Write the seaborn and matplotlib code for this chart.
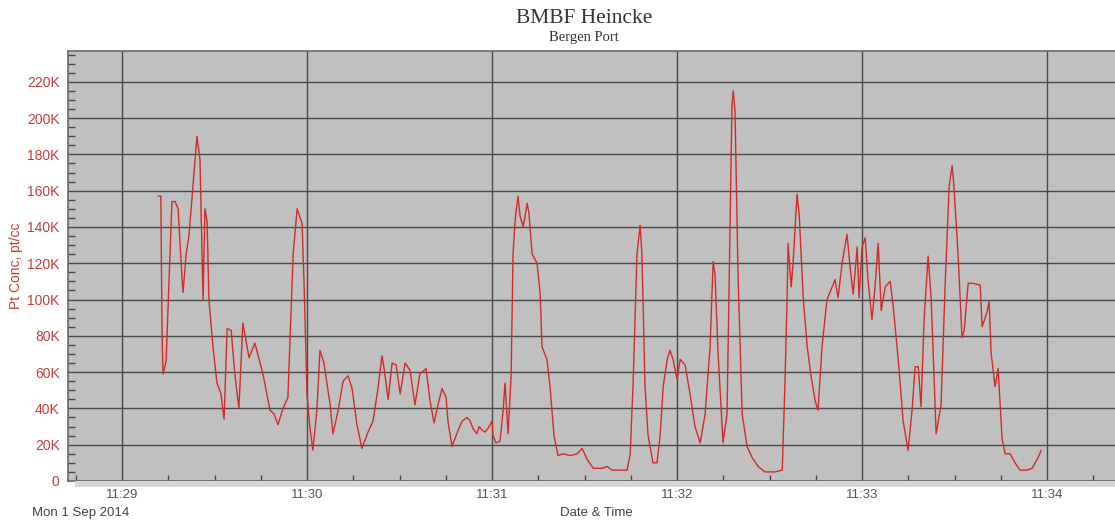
import numpy as np
import pandas as pd
import seaborn as sns
import matplotlib.pyplot as plt
import matplotlib.dates as mdates
from matplotlib.ticker import FuncFormatter, MultipleLocator
from matplotlib.patches import Rectangle

# seconds after 11:29:00 on Mon 1 Sep 2014
seconds = [
    11.7, 12.6, 13.0, 13.3, 14.3, 16.2, 17.2, 18.2, 19.5, 19.8, 20.8, 21.7, 23.0, 24.3, 25.3,
    25.9, 26.3, 26.9, 27.6, 28.2, 29.5, 30.8, 32.1, 33.1, 34.1, 35.4, 36.6, 37.9, 39.2, 41.2,
    43.1, 45.7, 48.0, 49.3, 50.6, 52.2, 53.8, 55.5, 56.8, 58.4, 59.0, 60.0, 60.9, 61.9, 63.2,
    64.2, 65.5, 67.5, 68.4, 70.1, 71.7, 73.3, 74.6, 76.2, 77.8, 79.8, 81.4, 83.0, 84.3, 85.0,
    86.3, 87.6, 88.9, 90.2, 91.8, 93.4, 95.0, 96.6, 98.6, 99.9, 101.2, 102.5, 103.8, 105.1, 105.7,
    107.0, 109.0, 110.3, 111.9, 112.9, 113.8, 115.1, 115.8, 116.8, 117.7, 118.7, 120.0, 120.3, 121.3, 122.6,
    123.6, 124.2, 125.2, 126.2, 126.8, 127.5, 128.4, 129.1, 130.1, 131.4, 132.0, 133.0, 134.6, 135.6, 136.2,
    137.8, 138.8, 140.1, 141.4, 143.0, 145.3, 147.6, 149.2, 150.8, 152.8, 155.7, 157.3, 158.9, 161.5, 163.8,
    164.8, 165.7, 167.0, 168.0, 168.6, 169.6, 170.6, 172.2, 173.5, 174.5, 175.5, 176.8, 177.7, 178.7, 180.0,
    181.0, 182.6, 184.2, 185.8, 187.5, 189.1, 190.7, 191.7, 192.3, 193.3, 194.9, 196.2, 196.9, 197.8, 198.2,
    198.8, 199.8, 201.1, 202.7, 204.3, 206.3, 208.5, 211.8, 214.1, 215.0, 215.7, 216.0, 217.0, 217.6, 218.9,
    219.6, 220.9, 222.2, 223.5, 224.8, 225.7, 227.0, 228.6, 230.3, 231.2, 232.2, 233.5, 235.1, 236.1, 237.1,
    238.4, 239.0, 240.0, 241.0, 241.9, 243.2, 244.2, 245.2, 246.2, 247.5, 249.1, 250.1, 251.7, 253.3, 254.9,
    256.2, 257.2, 258.2, 259.1, 260.1, 261.4, 262.4, 264.0, 265.6, 266.9, 268.2, 269.2, 269.8, 271.1, 272.4,
    273.1, 274.4, 275.7, 278.3, 278.9, 280.5, 281.2, 281.8, 283.1, 284.1, 285.4, 286.4, 288.0, 289.6, 291.2,
    293.5, 295.1, 296.8, 298.1,
]

# particle concentration, thousands of particles per cc
conc_k = [
    157, 157, 81, 59, 66, 154, 154, 150, 111, 104, 125, 135, 162, 190, 177,
    129, 100, 150, 143, 100, 74, 54, 48, 34, 84, 83, 59, 40, 87, 68,
    76, 59, 39, 37, 31, 40, 46, 125, 150, 142, 111, 48, 30, 17, 39,
    72, 65, 42, 26, 39, 55, 58, 51, 31, 18, 27, 33, 51, 69, 62,
    45, 65, 64, 48, 65, 61, 42, 59, 62, 44, 32, 42, 51, 46, 33,
    19, 28, 33, 35, 33, 29, 26, 30, 28, 27, 29, 33, 25, 21, 22,
    39, 54, 26, 59, 125, 144, 157, 146, 140, 153, 147, 125, 120, 103, 74,
    67, 52, 25, 14, 15, 14, 15, 18, 12, 7, 7, 8, 6, 6, 6,
    15, 52, 125, 141, 125, 52, 25, 10, 10, 25, 52, 67, 72, 67, 56,
    67, 64, 48, 30, 21, 37, 74, 121, 114, 70, 21, 37, 111, 207, 215,
    203, 111, 37, 19, 13, 8, 5, 5, 6, 55, 103, 131, 107, 120, 158,
    147, 101, 74, 57, 44, 39, 74, 100, 107, 111, 101, 120, 136, 118, 103,
    129, 101, 129, 134, 111, 89, 107, 131, 94, 107, 110, 96, 67, 33, 17,
    39, 63, 63, 41, 89, 124, 100, 26, 42, 107, 162, 174, 162, 125, 79,
    83, 109, 109, 108, 85, 93, 99, 71, 52, 62, 23, 15, 15, 10, 6,
    6, 7, 12, 17,
]

y_ticks = [0, 20000, 40000, 60000, 80000, 100000, 120000, 140000, 160000, 180000, 200000, 220000]

start = pd.Timestamp("2014-09-01 11:29:00")
df = pd.DataFrame({
    "time": start + pd.to_timedelta(seconds, unit="s"),
    "conc": np.array(conc_k) * 1000,
})

sns.set_style("white")
plt.rcParams["font.family"] = ["Liberation Sans", "DejaVu Sans"]

red = "#d42a2a"
label_red = "#c43c3c"
grid_col = "#4a4a4a"

fig = plt.figure(figsize=(11.15, 5.2), dpi=100)
ax = fig.add_axes([0.061, 0.075, 0.939, 0.827])
ax.set_facecolor("#c0c0c0")

sns.lineplot(data=df, x="time", y="conc", color=red, linewidth=1.0, ax=ax)

ax.set_xlim(start - pd.Timedelta(seconds=17.5), start + pd.Timedelta(seconds=322))
ax.set_ylim(0, 237000)

ax.xaxis.set_major_locator(mdates.MinuteLocator())
ax.xaxis.set_major_formatter(mdates.DateFormatter("%H:%M"))
ax.xaxis.set_minor_locator(mdates.SecondLocator(bysecond=[15, 30, 45]))

ax.set_yticks(y_ticks)
ax.yaxis.set_major_formatter(FuncFormatter(lambda v, p: "0" if v == 0 else f"{int(v / 1000)}K"))
ax.yaxis.set_minor_locator(MultipleLocator(5000))

ax.grid(True, which="major", color=grid_col, linewidth=1.0)
ax.tick_params(axis="y", which="major", direction="out", length=5, width=1,
               color=grid_col, labelcolor=label_red, labelsize=10, pad=1)
ax.tick_params(axis="y", which="minor", direction="in", length=5, width=1, color=grid_col, left=True)
ax.tick_params(axis="x", which="major", direction="out", length=5, width=1,
               color=grid_col, labelcolor="#555555", labelsize=9.5, pad=1)
ax.tick_params(axis="x", which="minor", direction="in", length=4, width=1, color=grid_col, bottom=True)
for lab in ax.get_xticklabels():
    lab.set_family(["Liberation Sans Narrow", "Liberation Sans"])

for side in ["top", "left", "bottom"]:
    ax.spines[side].set_color("#6a6a6a")
    ax.spines[side].set_linewidth(1.2)
ax.spines["right"].set_visible(False)

ax.set_xlabel("")
ax.set_ylabel("Pt Conc, pt/cc", color=label_red, fontsize=10, labelpad=3)

# light shadow band under the plot area
fig.patches.append(Rectangle((0.067, 0.063), 0.933, 0.012, transform=fig.transFigure,
                             facecolor="#d6d6d6", edgecolor="none", zorder=0))

fig.text(0.524, 0.965, "BMBF Heincke", ha="center", va="center", fontsize=15.5,
         family=["Liberation Serif", "DejaVu Serif"], color="#333333")
fig.text(0.524, 0.927, "Bergen Port", ha="center", va="center", fontsize=10.5,
         family=["Liberation Serif", "DejaVu Serif"], color="#333333")
fig.text(0.029, 0.013, "Mon 1 Sep 2014", ha="left", va="center", fontsize=9.5,
         family=["Liberation Sans Narrow", "Liberation Sans"], color="#444444")
fig.text(0.535, 0.013, "Date & Time", ha="center", va="center", fontsize=9.5,
         family=["Liberation Sans Narrow", "Liberation Sans"], color="#444444")

fig.savefig("out.png", dpi=100, facecolor="white")
